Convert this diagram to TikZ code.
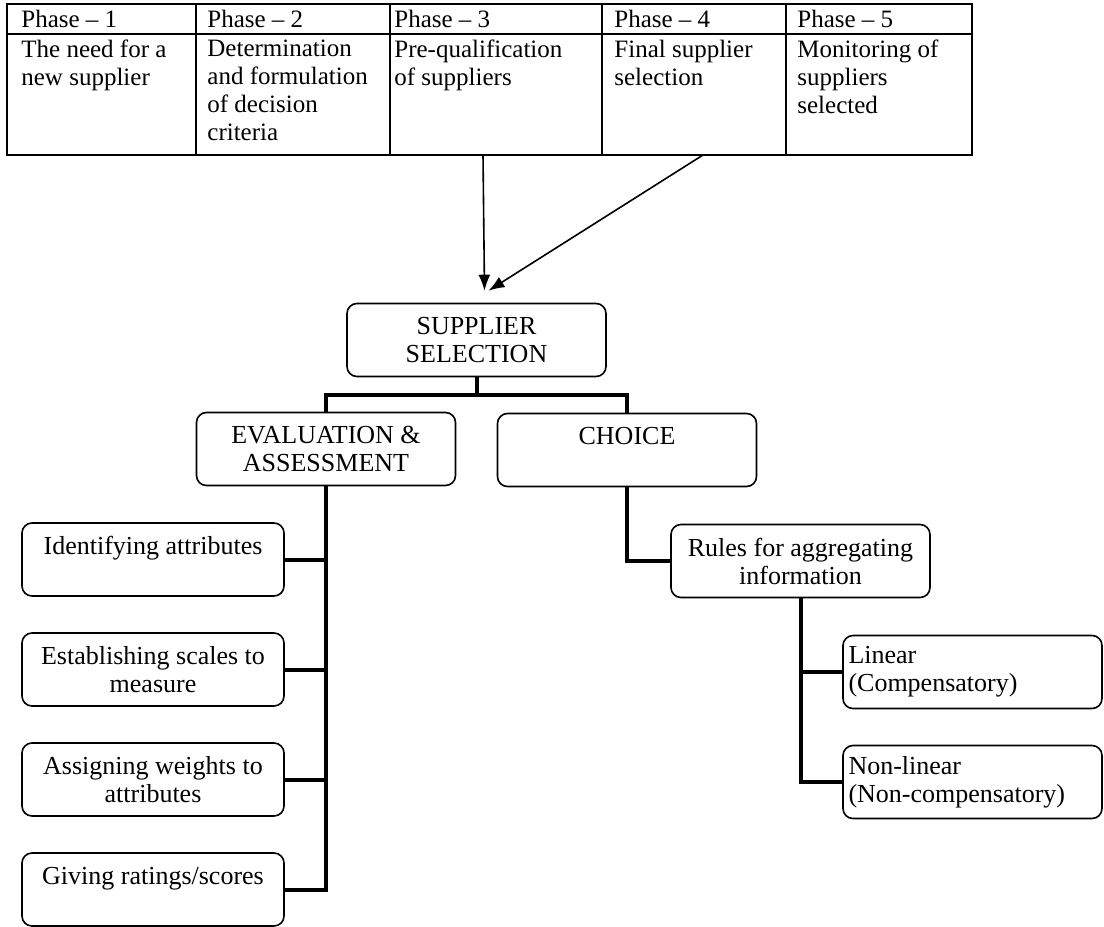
\documentclass[tikz,border=0pt]{standalone}
\usepackage{fontspec}
\setmainfont{Liberation Serif}
\usepackage{tikz}
\usetikzlibrary{arrows.meta}

\tikzset{
  grid/.style={line width=0.7pt},
  cell/.style={anchor=north west, align=left, inner xsep=0pt, inner ysep=2.8pt,
    font=\fontsize{12.5}{14}\selectfont},
  box/.style={draw, line width=0.8pt, rounded corners=5pt, align=center,
    minimum width=129.5pt, minimum height=36.5pt, inner sep=2pt},
  sidebox/.style={box, minimum width=131pt},
  leafbox/.style={box, align=left, text width=124pt, inner xsep=2.5pt},
  link/.style={line width=2pt},
  arr/.style={-{Latex[length=8pt,width=6pt]}, line width=0.8pt}
}

\begin{document}
\begin{tikzpicture}[x=0.5pt, y=-0.5pt, font=\fontsize{13}{14}\selectfont]
  \useasboundingbox (0,0) rectangle (1104,927);
  % phase table
  \foreach \xa/\xb/\dx/\n/\txt in {7/196/14/1/{The need for a\\new supplier},
      196/390/11/2/{Determination\\and formulation\\of decision\\criteria},
      390/602/4/3/{Pre-qualification\\of suppliers},
      602/786/12/4/{Final supplier\\selection},
      786/972/11/5/{Monitoring of\\suppliers\\selected}}{
    \draw[grid] (\xa,4) rectangle (\xb,34) (\xa,34) rectangle (\xb,155);
    \node[cell] (h\n) at (\xa+\dx,4) {Phase -- \n};
    \node[cell] (p\n) at (\xa+\dx,34) {\txt};
  }
  \coordinate (from3) at (483,155);
  \coordinate (from4) at (703,155);
  % main boxes
  \node[box] (sel) at (476.5,340) {SUPPLIER\\SELECTION};
  \node[box] (eval) at (326,449) {EVALUATION \&\\ASSESSMENT};
  \node[box] (choice) at (627,450) {CHOICE\\~};
  \node[box] (rules) at (800.5,561) {Rules for aggregating\\information};
  \node[leafbox] (lin) at (972.5,672) {Linear\\(Compensatory)};
  \node[leafbox] (nonlin) at (972.5,782) {Non-linear\\(Non-compensatory)};
  % evaluation steps
  \node[sidebox] (ident) at (153,559.5) {Identifying attributes\\~};
  \node[sidebox] (estab) at (153,669.5) {Establishing scales to\\measure};
  \node[sidebox] (assign) at (153,779.5) {Assigning weights to\\attributes};
  \node[sidebox] (rate) at (153,889.5) {Giving ratings/scores\\~};
  % arrows from the table
  \draw[arr] (from3) -- ([xshift=4pt,yshift=6pt]sel.north);
  \draw[arr] (from4) -- ([xshift=6pt,yshift=6pt]sel.north);
  % tree links
  \draw[link] (sel.south) -- ++(0,18) -| (eval.north);
  \draw[link] (sel.south) -- ++(0,18) -| (choice.north);
  \foreach \b in {ident,estab,assign,rate}
    \draw[link] (eval.south) |- (\b.east);
  \draw[link] (choice.south) |- (rules.west);
  \foreach \b in {lin,nonlin}
    \draw[link] (rules.south) |- (\b.west);
\end{tikzpicture}
\end{document}
